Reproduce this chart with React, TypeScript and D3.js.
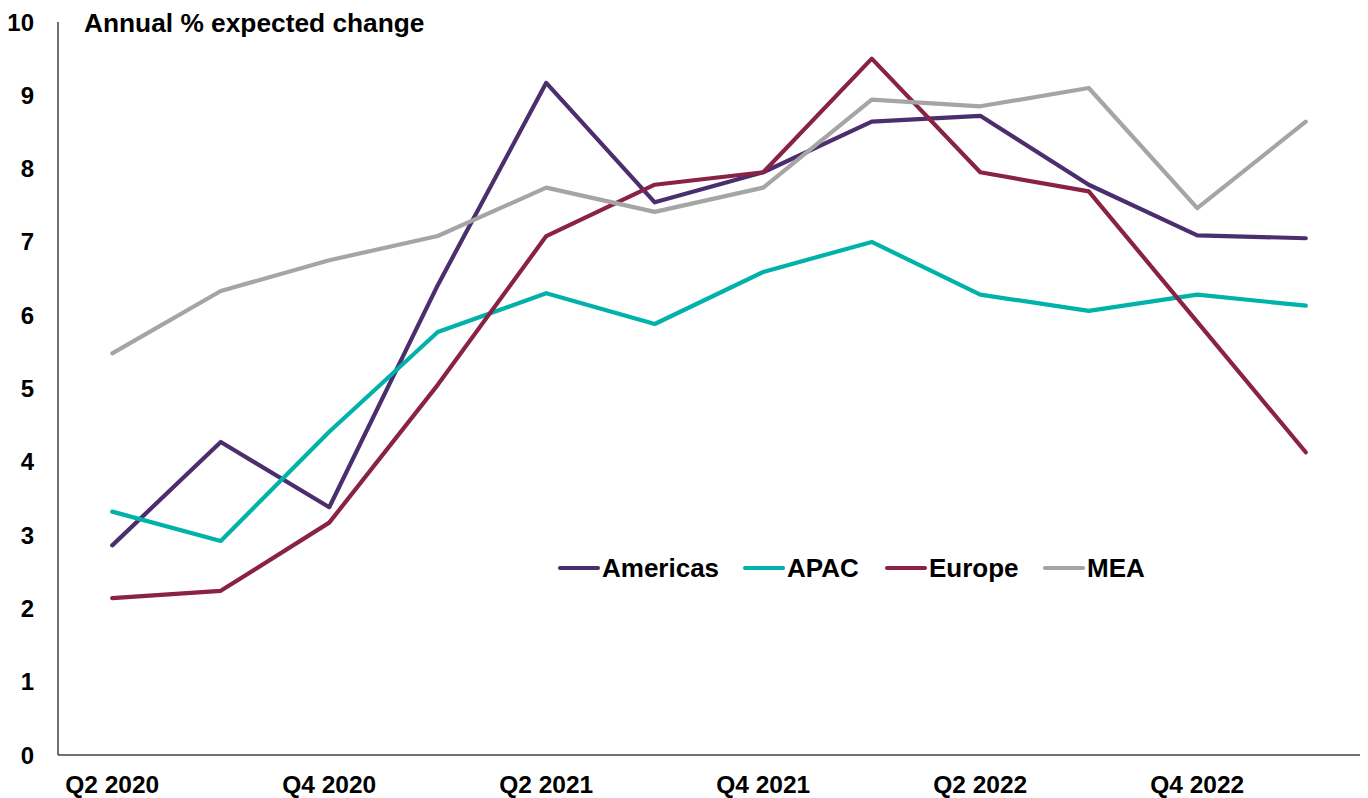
import React from 'react';
import * as d3 from 'd3';

const quarters = [
  'Q2 2020', 'Q3 2020', 'Q4 2020', 'Q1 2021', 'Q2 2021', 'Q3 2021',
  'Q4 2021', 'Q1 2022', 'Q2 2022', 'Q3 2022', 'Q4 2022', 'Q1 2023',
];
const tickLabels = ['Q2 2020', 'Q4 2020', 'Q2 2021', 'Q4 2021', 'Q2 2022', 'Q4 2022'];
const yTicks = [0, 1, 2, 3, 4, 5, 6, 7, 8, 9, 10];

const americas = [2.86, 4.27, 3.38, 6.41, 9.17, 7.54, 7.95, 8.64, 8.72, 7.78, 7.09, 7.05];
const apac = [3.32, 2.92, 4.41, 5.77, 6.30, 5.88, 6.59, 7.0, 6.28, 6.06, 6.28, 6.13];
const europe = [2.14, 2.24, 3.17, 5.05, 7.08, 7.78, 7.95, 9.5, 7.95, 7.69, 5.91, 4.13];
const mea = [5.48, 6.33, 6.75, 7.08, 7.74, 7.41, 7.74, 8.94, 8.85, 9.10, 7.46, 8.64];

const seriesNames = ['Americas', 'APAC', 'Europe', 'MEA'];
const seriesColors = ['#4b2e6e', '#00b2a9', '#8a2246', '#a5a5a5'];

export default function App() {
  const W = 1368;
  const H = 798;
  const left = 58;
  const right = 1360;
  const top = 22;
  const bottom = 755;

  const x = d3.scaleBand<string>().domain(quarters).range([left, right]);
  const cx = (q: string) => (x(q) as number) + x.bandwidth() / 2;
  const y = d3.scaleLinear().domain([0, 10]).range([bottom, top]);

  const all = [americas, apac, europe, mea];
  const line = d3
    .line<number>()
    .x((_, i) => cx(quarters[i]))
    .y((d) => y(d));

  // legend item starts (line start x)
  const legendX = [560, 745, 887, 1045];
  const legendY = 568;
  const font = 'Liberation Sans, Arial, Helvetica, sans-serif';

  return (
    <svg width={W} height={H} style={{ position: 'absolute', left: 0, top: 0, background: '#fff' }}>
      <g fontFamily={font} fontWeight="bold" fill="#000">
        {yTicks.map((t) => (
          <text key={t} x={34} y={y(t)} textAnchor="end" dominantBaseline="central" fontSize={24}>
            {t}
          </text>
        ))}
        {tickLabels.map((q) => (
          <text key={q} x={cx(q)} y={784} textAnchor="middle" dominantBaseline="central" fontSize={24.5}>
            {q}
          </text>
        ))}
        <text x={84} y={32} fontSize={26.3}>Annual % expected change</text>
      </g>
      <line x1={left} x2={left} y1={top} y2={bottom} stroke="#404040" strokeWidth={1.5} />
      <line x1={left} x2={right} y1={bottom} y2={bottom} stroke="#404040" strokeWidth={1.5} />
      {all.map((s, i) => (
        <path
          key={seriesNames[i]}
          d={line(s) || ''}
          fill="none"
          stroke={seriesColors[i]}
          strokeWidth={4.2}
          strokeLinejoin="round"
          strokeLinecap="round"
        />
      ))}
      <g fontFamily={font} fontWeight="bold" fontSize={26}>
        {seriesNames.map((n, i) => (
          <g key={n}>
            <line
              x1={legendX[i]}
              x2={legendX[i] + 38}
              y1={legendY}
              y2={legendY}
              stroke={seriesColors[i]}
              strokeWidth={4.2}
              strokeLinecap="round"
            />
            <text x={legendX[i] + 42} y={legendY} dominantBaseline="central">
              {n}
            </text>
          </g>
        ))}
      </g>
    </svg>
  );
}
